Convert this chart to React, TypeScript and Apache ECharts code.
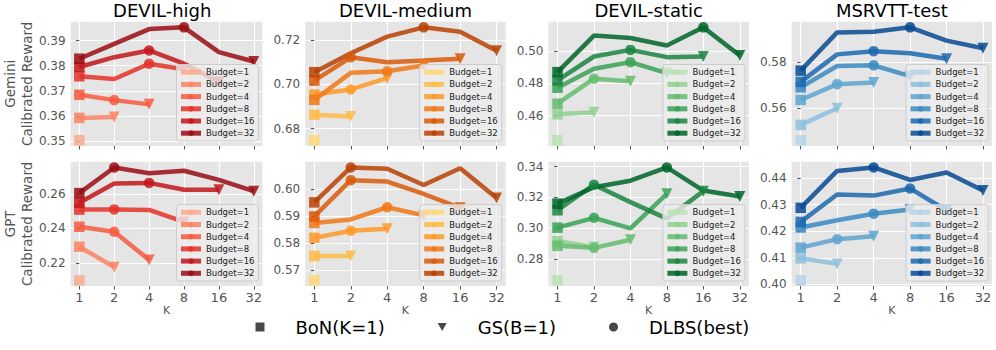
import { useEffect, useRef } from "react";
import * as echarts from "echarts";

// ---------------- data ----------------
const K_VALUES = [1, 2, 4, 8, 16, 32];
const BUDGETS = [1, 2, 4, 8, 16, 32];
const DATASETS = ["DEVIL-high", "DEVIL-medium", "DEVIL-static", "MSRVTT-test"];
const JUDGES = ["Gemini", "GPT"];

// values per budget, for K = 1, 2, 4, ... up to the budget
const highGemini = [
  [0.3503],
  [0.3592, 0.3596],
  [0.3684, 0.3663, 0.3646],
  [0.3758, 0.3747, 0.3808, 0.3786],
  [0.3795, 0.3834, 0.3861, 0.3808, 0.3735],
  [0.3828, 0.3887, 0.3946, 0.3953, 0.3854, 0.3817],
];
const highGPT = [
  [0.2101],
  [0.2295, 0.2177],
  [0.241, 0.2381, 0.2219],
  [0.2509, 0.251, 0.2507, 0.2438],
  [0.2549, 0.2659, 0.2663, 0.2623, 0.2623],
  [0.2604, 0.2752, 0.2718, 0.2733, 0.268, 0.2615],
];
const mediumGemini = [
  [0.6748],
  [0.6863, 0.6855],
  [0.6954, 0.6977, 0.7028],
  [0.693, 0.7052, 0.7059, 0.7085],
  [0.7017, 0.7122, 0.71, 0.7107, 0.7115],
  [0.7055, 0.714, 0.7215, 0.7257, 0.7237, 0.7152],
];
const mediumGPT = [
  [0.5663],
  [0.5753, 0.5753],
  [0.582, 0.5846, 0.5854],
  [0.5875, 0.5888, 0.5933, 0.5903],
  [0.5899, 0.6033, 0.6028, 0.5982, 0.5931],
  [0.5951, 0.608, 0.6075, 0.6015, 0.6077, 0.5967],
];
const staticGemini = [
  [0.4447],
  [0.4608, 0.4621],
  [0.4674, 0.4829, 0.4814],
  [0.4773, 0.4891, 0.4932, 0.4864],
  [0.4819, 0.4967, 0.5008, 0.4963, 0.4967],
  [0.487, 0.5097, 0.5082, 0.5035, 0.5148, 0.4973],
];
const staticGPT = [
  [0.2661],
  [0.2915, 0.2878],
  [0.2885, 0.2872, 0.2925],
  [0.3003, 0.3067, 0.2998, 0.3223],
  [0.3116, 0.3282, 0.3169, 0.3062, 0.324],
  [0.3159, 0.3265, 0.3308, 0.3394, 0.3244, 0.3206],
];
const msrvttGemini = [
  [0.546],
  [0.5527, 0.56],
  [0.5636, 0.5705, 0.5712],
  [0.5691, 0.5784, 0.5787, 0.574],
  [0.5715, 0.5835, 0.5849, 0.584, 0.5816],
  [0.5764, 0.5931, 0.5934, 0.5953, 0.5895, 0.5862],
];
const msrvttGPT = [
  [0.4015],
  [0.4098, 0.4077],
  [0.4138, 0.417, 0.4181],
  [0.4214, 0.4241, 0.4266, 0.4282],
  [0.4235, 0.4338, 0.4334, 0.4361, 0.4278],
  [0.4288, 0.4427, 0.444, 0.4393, 0.4421, 0.4353],
];

// y tick labels per panel
const ticksHighGemini = [0.35, 0.36, 0.37, 0.38, 0.39];
const ticksHighGPT = [0.22, 0.24, 0.26];
const ticksMediumGemini = [0.68, 0.7, 0.72];
const ticksMediumGPT = [0.57, 0.58, 0.59, 0.6];
const ticksStaticGemini = [0.46, 0.48, 0.5];
const ticksStaticGPT = [0.28, 0.3, 0.32, 0.34];
const ticksMsrvttGemini = [0.56, 0.58];
const ticksMsrvttGPT = [0.4, 0.41, 0.42, 0.43, 0.44];

// colours (light -> dark) per dataset
const reds = ["#fcab8e", "#fc8464", "#f75b40", "#e53128", "#c2161b", "#990c13"];
const oranges = ["#fed777", "#febb47", "#fe9929", "#f07818", "#d95a09", "#b84203"];
const greens = ["#b8e3b1", "#91d18e", "#64bc6e", "#39a256", "#1b843f", "#006529"];
const blues = ["#b6d4e9", "#8cc0dd", "#5ea5d1", "#3989c1", "#1b69af", "#084a92"];

const MARKER_NAMES = ["BoN(K=1)", "GS(B=1)", "DLBS(best)"];

const PANELS = [
  { row: 0, col: 0, values: highGemini, ticks: ticksHighGemini, colors: reds },
  { row: 0, col: 1, values: mediumGemini, ticks: ticksMediumGemini, colors: oranges },
  { row: 0, col: 2, values: staticGemini, ticks: ticksStaticGemini, colors: greens },
  { row: 0, col: 3, values: msrvttGemini, ticks: ticksMsrvttGemini, colors: blues },
  { row: 1, col: 0, values: highGPT, ticks: ticksHighGPT, colors: reds },
  { row: 1, col: 1, values: mediumGPT, ticks: ticksMediumGPT, colors: oranges },
  { row: 1, col: 2, values: staticGPT, ticks: ticksStaticGPT, colors: greens },
  { row: 1, col: 3, values: msrvttGPT, ticks: ticksMsrvttGPT, colors: blues },
];

// ---------------- layout ----------------
const W = 996;
const H = 350;
const FONT = "DejaVu Sans";
const GRID_LEFT0 = 62;
const GRID_STEP = 243.2;
const GRID_W = 200.5;
const ROW_TOP = [21.7, 161.8];
const GRID_H = 124.2;
const OPACITY = 0.85;

function buildOption() {
  const grids: any[] = [];
  const xAxes: any[] = [];
  const yAxes: any[] = [];
  const series: any[] = [];
  const legends: any[] = [];
  const xTicks = K_VALUES.map((k) => Math.log2(k));

  PANELS.forEach((p, i) => {
    const left = GRID_LEFT0 + p.col * GRID_STEP;
    const top = ROW_TOP[p.row];
    grids.push({
      left,
      top,
      width: GRID_W,
      height: GRID_H,
      show: true,
      backgroundColor: "#E5E5E5",
      borderWidth: 0,
    });
    const all = p.values.flat();
    const mn = Math.min(...all);
    const mx = Math.max(...all);
    const pad = (mx - mn) * 0.05;
    xAxes.push({
      type: "value",
      gridIndex: i,
      min: -0.25,
      max: 5.25,
      axisLine: { show: false },
      axisTick: { show: true, customValues: xTicks, length: 3.5, lineStyle: { color: "#555555" } },
      axisLabel: {
        show: p.row === 1,
        customValues: xTicks,
        formatter: (v: number) => String(Math.round(Math.pow(2, v))),
        fontSize: 13,
        color: "#555555",
        fontFamily: FONT,
        margin: 5,
      },
      splitLine: { show: true, lineStyle: { color: "#ffffff", width: 1.2 } },
      name: p.row === 1 ? "K" : "",
      nameLocation: "middle",
      nameGap: 18,
      nameTextStyle: { fontSize: 11, color: "#555555", fontFamily: FONT },
    });
    yAxes.push({
      type: "value",
      gridIndex: i,
      min: mn - pad,
      max: mx + pad,
      axisLine: { show: false },
      axisTick: { show: true, customValues: p.ticks, length: 3.5, lineStyle: { color: "#555555" } },
      axisLabel: {
        customValues: p.ticks,
        formatter: (v: number) => v.toFixed(2),
        fontSize: 12,
        color: "#555555",
        fontFamily: FONT,
        margin: 5,
      },
      splitLine: { show: true, lineStyle: { color: "#ffffff", width: 1.2 } },
      name: p.col === 0 ? `${JUDGES[p.row]}\nCalibrated Reward` : "",
      nameLocation: "middle",
      nameGap: 26,
      nameRotate: 90,
      nameTextStyle: { fontSize: 13.5, lineHeight: 17, color: "#555555", fontFamily: FONT },
    });

    BUDGETS.forEach((b, j) => {
      const vals = p.values[j];
      const n = vals.length;
      let best = -1;
      if (n > 2) {
        best = 1;
        for (let t = 2; t < n - 1; t++) if (vals[t] > vals[best]) best = t;
      }
      const color = p.colors[j];
      series.push({
        type: "line",
        name: `Budget=${b}`,
        xAxisIndex: i,
        yAxisIndex: i,
        symbol: "circle",
        symbolSize: 9,
        showAllSymbol: true,
        silent: true,
        lineStyle: { color, width: 4.5, opacity: OPACITY },
        itemStyle: { color, opacity: OPACITY },
        emphasis: { disabled: true },
        data: vals.map((v, t) => {
          let symbol = "none";
          let size = 0;
          let rotate = 0;
          if (t === 0) {
            symbol = "rect";
            size = 10.5;
          } else if (t === n - 1) {
            symbol = "triangle";
            size = 11;
            rotate = 180;
          } else if (t === best) {
            symbol = "circle";
            size = 10.5;
          }
          return { value: [Math.log2(K_VALUES[t]), v], symbol, symbolSize: size, symbolRotate: rotate };
        }),
      });
    });

    legends.push({
      orient: "vertical",
      right: W - (left + GRID_W) + 4,
      bottom: H - (top + GRID_H) + 5,
      itemWidth: 20,
      itemHeight: 7,
      itemGap: 3.2,
      padding: [3.2, 4, 3.2, 2],
      backgroundColor: "rgba(236,236,236,0.8)",
      borderColor: "#cccccc",
      borderWidth: 1,
      borderRadius: 3,
      selectedMode: false,
      textStyle: { fontSize: 8.5, color: "#1a1a1a", fontFamily: FONT },
      lineStyle: { width: 5 },
      data: BUDGETS.map((b, j) => ({
        name: `Budget=${b}`,
        itemStyle: { color: p.colors[j], opacity: OPACITY },
        lineStyle: { color: p.colors[j], width: 5, opacity: OPACITY },
      })),
    });
  });

  // dummy series for the marker legend
  const markerSymbols = ["rect", "triangle", "circle"];
  MARKER_NAMES.forEach((name, m) => {
    series.push({
      type: "scatter",
      name,
      xAxisIndex: 0,
      yAxisIndex: 0,
      symbol: markerSymbols[m],
      itemStyle: { color: "#1a1a1a" },
      data: [],
    });
  });
  legends.push({
    orient: "horizontal",
    left: 255.5,
    top: 318,
    itemWidth: 9,
    itemHeight: 9,
    itemGap: 53,
    padding: 0,
    selectedMode: false,
    textStyle: { fontSize: 18, color: "#000000", fontFamily: FONT, padding: [0, 0, 0, 26] },
    data: [
      { name: MARKER_NAMES[0], icon: "rect" },
      { name: MARKER_NAMES[1], icon: "path://M0,0L10,0L5,9Z" },
      { name: MARKER_NAMES[2], icon: "circle" },
    ],
  });

  const titles = DATASETS.map((d, c) => ({
    text: d,
    left: GRID_LEFT0 + c * GRID_STEP + GRID_W / 2,
    top: 1,
    textAlign: "center",
    padding: 0,
    textStyle: { fontSize: 18, fontWeight: "normal", color: "#000000", fontFamily: FONT },
  }));

  return {
    animation: false,
    backgroundColor: "#ffffff",
    textStyle: { fontFamily: FONT },
    title: titles,
    grid: grids,
    xAxis: xAxes,
    yAxis: yAxes,
    legend: legends,
    series,
  };
}

export default function App() {
  const ref = useRef<HTMLDivElement>(null);
  useEffect(() => {
    document.body.style.margin = "0";
    if (!ref.current) return;
    const chart = echarts.init(ref.current, undefined, { renderer: "svg" });
    chart.setOption(buildOption() as any);
    return () => chart.dispose();
  }, []);
  return <div ref={ref} style={{ width: W, height: H }} />;
}
